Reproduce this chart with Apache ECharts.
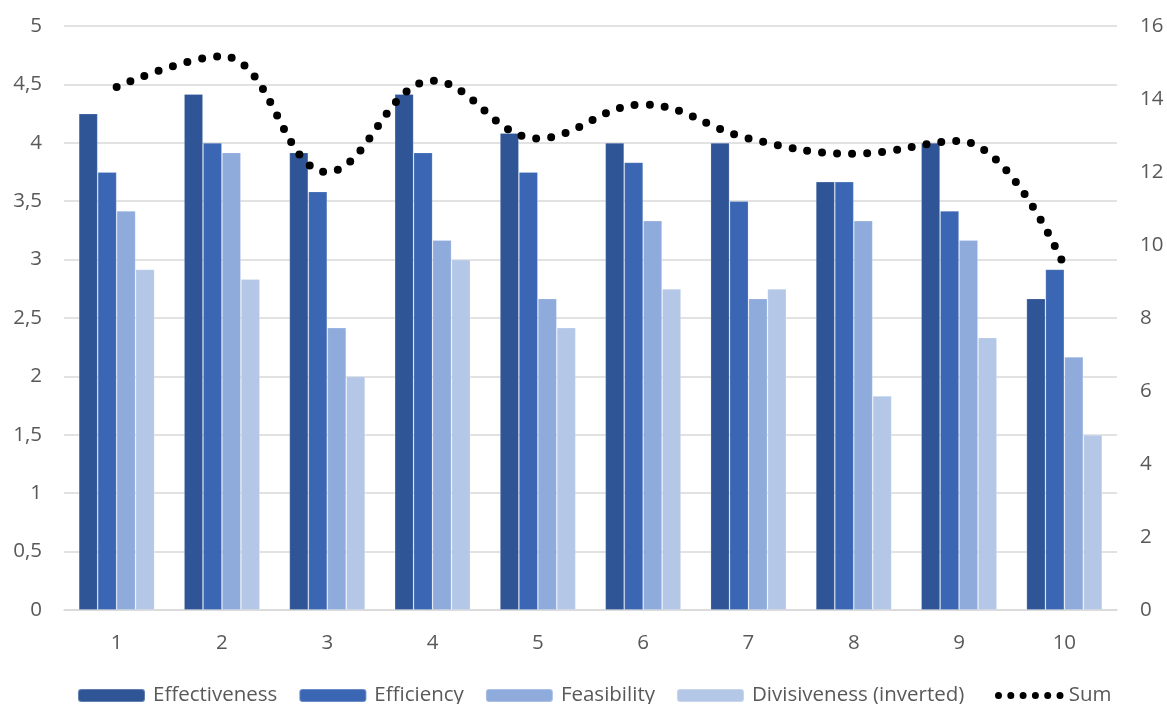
<!DOCTYPE html>
<html>
<head>
<meta charset="utf-8">
<script src="https://cdn.jsdelivr.net/npm/echarts@6/dist/echarts.min.js"></script>
<style>html,body{margin:0;padding:0;background:#fff;}#c{width:1167px;height:704px;}</style>
</head>
<body>
<div id="c"></div>
<script>
const categories = ['1','2','3','4','5','6','7','8','9','10'];
const effectiveness = [4.25, 4.417, 3.917, 4.417, 4.083, 4.0, 4.0, 3.667, 4.0, 2.667];
const efficiency    = [3.75, 4.0, 3.583, 3.917, 3.75, 3.833, 3.5, 3.667, 3.417, 2.917];
const feasibility   = [3.417, 3.917, 2.417, 3.167, 2.667, 3.333, 2.667, 3.333, 3.167, 2.167];
const divisiveness  = [2.917, 2.833, 2.0, 3.0, 2.417, 2.75, 2.75, 1.833, 2.333, 1.5];
const sum           = [14.33, 15.17, 12.0, 14.5, 12.92, 13.85, 12.92, 12.5, 12.85, 9.42];
const leftTicks = { min: 0, max: 5, interval: 0.5 };
const rightTicks = { min: 0, max: 16, interval: 2 };

const FONT = 'Open Sans';
const TXT = '#595959';
const FS = 20.5;
const chart = echarts.init(document.getElementById('c'), null, {renderer: 'canvas'});
function bar(name, data, color) {
  return { name, type: 'bar', data, yAxisIndex: 0, barGap: '0%', barCategoryGap: '28%',
    itemStyle: { color, borderColor: 'rgba(255,255,255,0.25)', borderWidth: 0.8 } };
}
// six dots icon for the Sum legend entry
let dots = '';
for (let i = 0; i < 6; i++) {
  const cx = 3.5 + i * 12.3;
  dots += 'M' + (cx - 3.5) + ' 3.5a3.5 3.5 0 1 0 7 0a3.5 3.5 0 1 0 -7 0Z';
}
chart.setOption({
  animation: false,
  grid: { left: 64, right: 50, top: 26, bottom: 94, containLabel: false, outerBoundsMode: 'none' },
  legend: [{
    bottom: -7, left: 72, itemWidth: 67, itemHeight: 13, itemGap: 21,
    textStyle: { fontFamily: FONT, fontSize: FS, color: TXT, padding: [0, 0, 0, 3] },
    data: ['Effectiveness','Efficiency','Feasibility','Divisiveness (inverted)']
  }, {
    bottom: -7, left: 990, itemWidth: 69, itemHeight: 7, itemGap: 21,
    textStyle: { fontFamily: FONT, fontSize: FS, color: TXT },
    data: [{ name: 'Sum', icon: 'path://' + dots, itemStyle: { color: '#000' } }]
  }],
  xAxis: {
    type: 'category', data: categories,
    axisLine: { lineStyle: { color: '#d9d9d9', width: 1.5 } },
    axisTick: { show: false },
    axisLabel: { fontFamily: FONT, fontSize: FS, color: TXT, margin: 23 }
  },
  yAxis: [
    { type: 'value', min: leftTicks.min, max: leftTicks.max, interval: leftTicks.interval,
      axisLine: { show: false }, axisTick: { show: false },
      splitLine: { lineStyle: { color: '#d9d9d9', width: 1.5 } },
      axisLabel: { fontFamily: FONT, fontSize: FS, color: TXT, margin: 22,
        formatter: v => String(v).replace('.', ',') } },
    { type: 'value', position: 'right', min: rightTicks.min, max: rightTicks.max, interval: rightTicks.interval,
      axisLine: { show: false }, axisTick: { show: false }, splitLine: { show: false },
      axisLabel: { fontFamily: FONT, fontSize: FS, color: TXT, margin: 23, align: 'left',
        formatter: v => '{a|' + v + '}',
        rich: { a: { width: 24, align: 'left', fontFamily: FONT, fontSize: FS, color: TXT } } } }
  ],
  series: [
    bar('Effectiveness', effectiveness, '#2F5597'),
    bar('Efficiency', efficiency, '#3A66B3'),
    bar('Feasibility', feasibility, '#8FABDC'),
    bar('Divisiveness (inverted)', divisiveness, '#B4C7E7'),
    { name: 'Sum', type: 'line', data: sum, yAxisIndex: 1, smooth: 0.4,
      symbol: 'none', showSymbol: false, itemStyle: { color: '#000' },
      lineStyle: { color: '#000', width: 8, type: [0, 15], cap: 'round' } }
  ]
});
</script>
</body>
</html>
